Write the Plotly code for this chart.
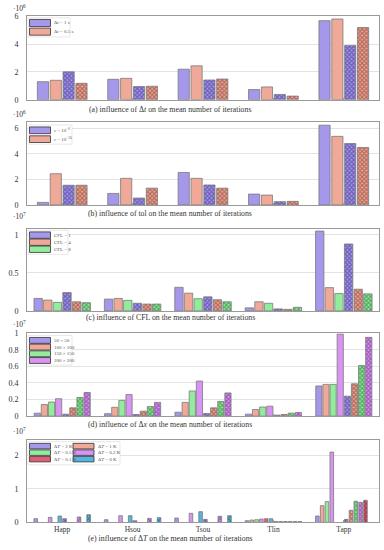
import plotly.graph_objects as go

# ---------------- data ----------------
categories = ["Happ", "Hsou", "Tsou", "Tlin", "Tapp"]

# (a) values x 1e6 ; A = solid bars, B = hatched bars
a_labels = ["Δ<i>t</i> = 1 s", "Δ<i>t</i> = 0.5 s"]
a_dt1_A = [1.30, 1.47, 2.20, 0.73, 5.70]
a_dt05_A = [1.40, 1.54, 2.44, 0.92, 5.82]
a_dt1_B = [2.01, 0.95, 1.42, 0.38, 3.90]
a_dt05_B = [1.18, 0.97, 1.49, 0.26, 5.20]

# (b) values x 1e6
b_labels = ["<i>ε</i> = 10<sup>−6</sup>", "<i>ε</i> = 10<sup>−10</sup>"]
b_eps6_A = [0.20, 0.90, 2.54, 0.85, 6.23]
b_eps10_A = [2.44, 2.08, 2.08, 0.77, 5.36]
b_eps6_B = [1.54, 0.54, 1.56, 0.26, 4.80]
b_eps10_B = [1.54, 1.31, 1.31, 0.28, 4.49]

# (c) values x 1e7
c_labels = ["CFL = 1", "CFL = 4", "CFL = 8"]
c_cfl1_A = [0.164, 0.155, 0.310, 0.040, 1.050]
c_cfl4_A = [0.142, 0.164, 0.233, 0.120, 0.306]
c_cfl8_A = [0.112, 0.138, 0.160, 0.100, 0.228]
c_cfl1_B = [0.241, 0.100, 0.185, 0.026, 0.880]
c_cfl4_B = [0.120, 0.090, 0.147, 0.020, 0.285]
c_cfl8_B = [0.108, 0.090, 0.120, 0.047, 0.224]

# (d) values x 1e7
d_labels = ["50 × 50", "100 × 100", "150 × 150", "200 × 200"]
d_n50_A = [0.036, 0.030, 0.047, 0.024, 0.364]
d_n100_A = [0.140, 0.107, 0.166, 0.080, 0.383]
d_n150_A = [0.170, 0.190, 0.304, 0.110, 0.383]
d_n200_A = [0.210, 0.260, 0.423, 0.120, 0.990]
d_n50_B = [0.024, 0.020, 0.032, 0.012, 0.241]
d_n100_B = [0.100, 0.060, 0.100, 0.020, 0.390]
d_n150_B = [0.225, 0.115, 0.178, 0.036, 0.610]
d_n200_B = [0.285, 0.166, 0.280, 0.043, 0.950]

# (e) values x 1e7 (None = no bar)
e_labels = ["Δ<i>T</i> = 2 K", "Δ<i>T</i> = 1 K", "Δ<i>T</i> = 0.5 K",
            "Δ<i>T</i> = 0.2 K", "Δ<i>T</i> = 0.1 K", "Δ<i>T</i> = 0 K"]
e_dT2_A = [0.11, 0.08, 0.13, 0.05, 0.19]
e_dT1_A = [None, None, None, 0.07, 0.50]
e_dT05_A = [None, None, None, 0.08, 0.62]
e_dT02_A = [0.15, 0.20, 0.27, 0.10, 2.10]
e_dT01_A = [None, None, None, 0.11, None]
e_dT0_A = [0.19, 0.20, 0.32, 0.11, None]
e_dT2_B = [0.11, 0.05, 0.09, 0.025, 0.09]
e_dT1_B = [None, None, None, 0.025, 0.36]
e_dT05_B = [None, None, None, 0.025, 0.63]
e_dT02_B = [0.16, 0.12, 0.18, 0.025, 0.60]
e_dT01_B = [None, None, None, 0.025, 0.66]
e_dT0_B = [0.23, 0.14, 0.20, 0.025, None]

captions = [
    "(a) influence of Δ<i>t</i> on the mean number of iterations",
    "(b) influence of tol on the mean number of iterations",
    "(c) influence of CFL on the mean number of iterations",
    "(d) influence of Δ<i>x</i> on the mean number of iterations",
    "(e) influence of Δ<i>T</i> on the mean number of iterations",
]
exponents = ["·10<sup>6</sup>", "·10<sup>6</sup>", "·10<sup>7</sup>", "·10<sup>7</sup>", "·10<sup>7</sup>"]

# ---------------- style ----------------
colors = ["#a597ea", "#f0a898", "#92ec9c", "#d993f2", "#e05c78", "#52b6de"]
darks = ["#30257a", "#6e2a1e", "#175e22", "#5e2278", "#5e0e20", "#0e465e"]

W, H = 384, 550
L, R = 27, 5
PW = W - L - R
FONT = "Liberation Serif"

def px(x):
    return (x - L) / PW

def py(y):
    return 1 - y / H

panels = [
    dict(A=[a_dt1_A, a_dt05_A], B=[a_dt1_B, a_dt05_B], labels=a_labels,
         top=12.7, bot=97.3, yr=[0, 6.0], dtick=2, gw=0.73, gap=0.13,
         leg=dict(y0=15.7, h=7.2, pitch=8.8, box=(28, 70, 14, 33.5), ncol=1),
         cap_y=107, exp_y=4.5),
    dict(A=[b_eps6_A, b_eps10_A], B=[b_eps6_B, b_eps10_B], labels=b_labels,
         top=119.7, bot=204.3, yr=[0, 6.5], dtick=2, gw=0.73, gap=0.13,
         leg=dict(y0=125, h=6.8, pitch=9, box=(28, 72, 123, 142.5), ncol=1),
         cap_y=212.5, exp_y=111.5),
    dict(A=[c_cfl1_A, c_cfl4_A, c_cfl8_A], B=[c_cfl1_B, c_cfl4_B, c_cfl8_B], labels=c_labels,
         top=228.3, bot=312, yr=[0, 1.083], dtick=0.5, gw=0.82, gap=0.13,
         leg=dict(y0=231.7, h=6.5, pitch=7.2, box=(28, 68, 230, 254.5), ncol=1),
         cap_y=318.5, exp_y=215.5),
    dict(A=[d_n50_A, d_n100_A, d_n150_A, d_n200_A], B=[d_n50_B, d_n100_B, d_n150_B, d_n200_B],
         labels=d_labels,
         top=334.7, bot=419, yr=[0, 1.0], dtick=0.2, gw=0.81, gap=0.13,
         leg=dict(y0=339, h=6, pitch=6.8, box=(28, 72, 337, 367), ncol=1),
         cap_y=427.5, exp_y=325),
    dict(A=[e_dT2_A, e_dT1_A, e_dT05_A, e_dT02_A, e_dT01_A, e_dT0_A],
         B=[e_dT2_B, e_dT1_B, e_dT05_B, e_dT02_B, e_dT01_B, e_dT0_B],
         labels=e_labels,
         top=443.3, bot=527, yr=[0, 2.46], dtick=1, gw=0.82, gap=0.25,
         leg=dict(y0=446.7, h=5.6, pitch=6.6, box=(28, 120, 445, 468.5), ncol=2),
         cap_y=543.5, exp_y=434),
]

fig = go.Figure()
shapes = []
annotations = []

for k, p in enumerate(panels):
    idx = "" if k == 0 else str(k + 1)
    xa, ya = "x" + idx, "y" + idx
    n = len(p["A"])
    nb = 2 * n
    slot = p["gw"] / nb
    bw = slot * (1 - p["gap"])
    series = [(v, i, False) for i, v in enumerate(p["A"])] + [(v, i, True) for i, v in enumerate(p["B"])]
    for j, (vals, ci, hatched) in enumerate(series):
        off = -p["gw"] / 2 + j * slot + slot * p["gap"] / 2
        marker = dict(color=colors[ci], line=dict(color="#7a7a7a", width=0.8))
        if hatched:
            marker["pattern"] = dict(shape="x", fgcolor=darks[ci], bgcolor=colors[ci],
                                     size=3, solidity=0.6, fillmode="overlay")
        fig.add_trace(go.Bar(x=categories, y=vals, width=bw, offset=off,
                             marker=marker, showlegend=False,
                             name=p["labels"][ci] + (" (hatched)" if hatched else ""),
                             xaxis=xa, yaxis=ya))
    dom = [py(p["bot"]), py(p["top"])]
    axis_common = dict(showline=True, linecolor="#9a9a9a", linewidth=1, mirror=True)
    fig.layout["xaxis" + idx] = dict(
        domain=[0, 1], anchor=ya, range=[-0.5, 4.5], type="category",
        categoryorder="array", categoryarray=categories,
        showgrid=False, ticks="inside", ticklen=2, tickcolor="#9a9a9a",
        showticklabels=(k == 4), tickfont=dict(family=FONT, size=7.5, color="#333"),
        **axis_common)
    fig.layout["yaxis" + idx] = dict(
        domain=dom, anchor=xa, range=p["yr"], dtick=p["dtick"], tick0=0,
        showgrid=True, gridcolor="#e3e3e3", gridwidth=1, zeroline=False,
        ticks="", tickfont=dict(family=FONT, size=8, color="#333"),
        ticklabelstandoff=6, **axis_common)

    # caption and exponent
    annotations.append(dict(text=captions[k], x=px(170), y=py(p["cap_y"]), xref="paper", yref="paper",
                            showarrow=False, xanchor="center", yanchor="middle",
                            font=dict(family=FONT, size=7.8, color="#333")))
    annotations.append(dict(text=exponents[k], x=px(11), y=py(p["exp_y"]), xref="paper", yref="paper",
                            showarrow=False, xanchor="left", yanchor="middle",
                            font=dict(family=FONT, size=7.5, color="#333")))

    # legend drawn as patches
    lg = p["leg"]
    bx0, bx1, by0, by1 = lg["box"]
    shapes.append(dict(type="rect", xref="paper", yref="paper",
                       x0=px(bx0), x1=px(bx1), y0=py(by1), y1=py(by0),
                       fillcolor="white", line=dict(color="#d8d8d8", width=0.6), layer="above"))
    for i, lab in enumerate(p["labels"]):
        if lg["ncol"] == 1:
            row, col = i, 0
        else:
            row, col = i // 2, i % 2
        cx0 = 29.5 + col * 43.5
        y0 = lg["y0"] + row * lg["pitch"]
        shapes.append(dict(type="rect", xref="paper", yref="paper",
                           x0=px(cx0), x1=px(cx0 + 21), y0=py(y0 + lg["h"]), y1=py(y0),
                           fillcolor=colors[i], line=dict(color="#333", width=0.8), layer="above"))
        annotations.append(dict(text=lab, x=px(cx0 + 22.5), y=py(y0 + lg["h"] / 2),
                                xref="paper", yref="paper", showarrow=False,
                                xanchor="left", yanchor="middle",
                                font=dict(family=FONT, size=5, color="#555")))

fig.update_layout(
    width=W, height=H, barmode="overlay",
    margin=dict(l=L, r=R, t=0, b=0),
    paper_bgcolor="white", plot_bgcolor="white",
    shapes=shapes, annotations=annotations, showlegend=False,
    font=dict(family=FONT),
)

fig.write_html("out.html", config={"displayModeBar": False},
               post_script="document.body.style.margin='0';document.body.style.overflow='hidden';")
